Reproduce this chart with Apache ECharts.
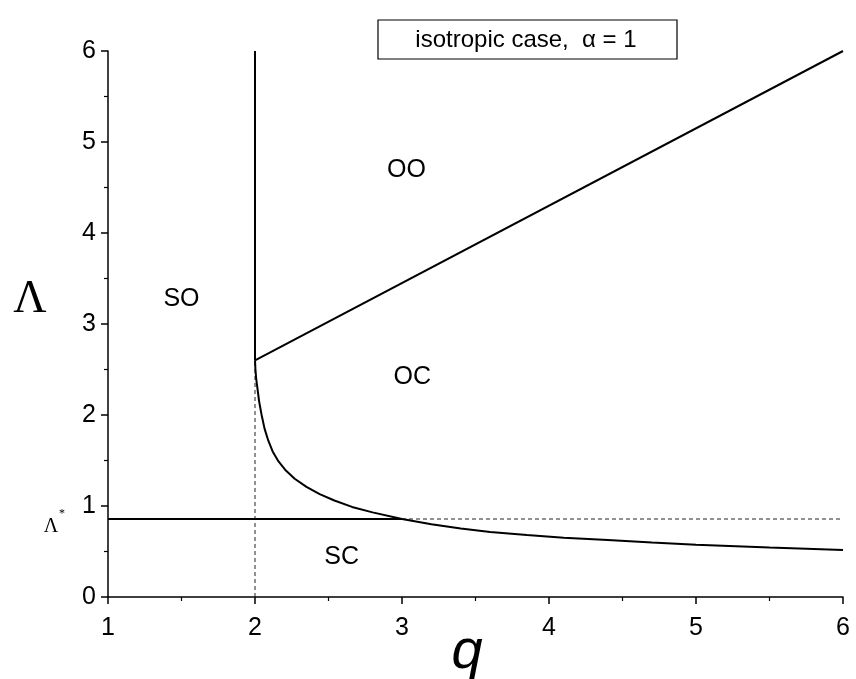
<!DOCTYPE html>
<html><head><meta charset="utf-8">
<script src="https://cdn.jsdelivr.net/npm/echarts@6/dist/echarts.min.js"></script>
<style>html,body{margin:0;padding:0;background:#fff}#c{width:856px;height:679px}</style>
</head><body><div id="c"></div>
<script>
var lambdaStar = 0.857;
var upperLine = [[2.0, 2.6], [6.0, 6.0]];
var verticalSolid = [[2.0, 2.6], [2.0, 6.0]];
var verticalDashed = [[2.0, 0], [2.0, 6.0]];
var starSolid = [[1.0, lambdaStar], [3.0, lambdaStar]];
var starDashed = [[3.0, lambdaStar], [6.0, lambdaStar]];
var curveQ = [2.000, 2.003, 2.008, 2.016, 2.028, 2.045, 2.065, 2.09, 2.12, 2.16, 2.21, 2.27, 2.35, 2.44, 2.54, 2.66, 2.80, 3.0, 3.2, 3.4, 3.6, 3.85, 4.1, 4.4, 4.7, 5.0, 5.5, 6.0];
var curveL = [2.60, 2.50, 2.40, 2.30, 2.15, 2.00, 1.85, 1.72, 1.60, 1.49, 1.39, 1.30, 1.21, 1.13, 1.06, 0.99, 0.93, 0.857, 0.80, 0.752, 0.715, 0.68, 0.652, 0.626, 0.598, 0.574, 0.543, 0.516];
var regionNames = ['SO', 'OO', 'OC', 'SC'];
var regionPos = [[1.50, 3.27], [3.03, 4.69], [3.07, 2.42], [2.59, 0.44]];
var xTicks = [1, 2, 3, 4, 5, 6];
var yTicks = [0, 1, 2, 3, 4, 5, 6];

var curve = curveQ.map(function (q, i) { return [q, curveL[i]]; });
var chart = echarts.init(document.getElementById('c'));
function lineSeries(data, width, type, color) {
  return { type: 'line', data: data, symbol: 'none', silent: true,
    lineStyle: { color: color || '#000', width: width, type: type || 'solid' }, z: 3 };
}
var labelFont = 'Liberation Sans, Arial';
chart.setOption({
  animation: false,
  grid: { left: 108, right: 13, top: 51, bottom: 82 },
  xAxis: { type: 'value', min: 1, max: 6, interval: 1,
    axisLine: { onZero: false, lineStyle: { color: '#000', width: 1.5 } },
    axisTick: { inside: false, length: 7, lineStyle: { color: '#000', width: 1.5 } },
    minorTick: { show: true, splitNumber: 2, length: 4, lineStyle: { color: '#000', width: 1.2 } },
    splitLine: { show: false },
    axisLabel: { color: '#000', fontSize: 25, fontFamily: labelFont, margin: 19,
      formatter: function (v) { return xTicks.indexOf(v) >= 0 ? String(v) : ''; } }
  },
  yAxis: { type: 'value', min: 0, max: 6, interval: 1,
    axisLine: { show: true, onZero: false, lineStyle: { color: '#000', width: 1.5 } },
    axisTick: { show: true, inside: false, length: 7, lineStyle: { color: '#000', width: 1.5 } },
    minorTick: { show: true, splitNumber: 2, length: 4, lineStyle: { color: '#000', width: 1.2 } },
    splitLine: { show: false },
    axisLabel: { color: '#000', fontSize: 25, fontFamily: labelFont, margin: 12,
      formatter: function (v) { return yTicks.indexOf(v) >= 0 ? String(v) : ''; } }
  },
  series: [
    lineSeries(verticalDashed, 1, [4, 3], '#222'),
    lineSeries(starDashed, 1, [4, 3], '#222'),
    lineSeries(verticalSolid, 2),
    lineSeries(upperLine, 2),
    lineSeries(starSolid, 2),
    lineSeries(curve, 2),
    { type: 'scatter', symbolSize: 0, silent: true, itemStyle: { opacity: 1 },
      data: regionPos.map(function (p, i) { return { value: p, name: regionNames[i] }; }),
      label: { show: true, position: 'inside', formatter: '{b}', color: '#000', fontSize: 25,
        textBorderWidth: 0, fontFamily: labelFont } }
  ],
  graphic: [
    { type: 'rect', shape: { x: 378, y: 20, width: 299, height: 39 },
      style: { fill: '#fff', stroke: '#000', lineWidth: 1.2 } },
    { type: 'text', x: 526, y: 40, style: { text: 'isotropic case,  α = 1', fill: '#000',
      font: '24px "Liberation Sans", Arial', textAlign: 'center', textVerticalAlign: 'middle' } },
    { type: 'text', x: 30, y: 300, style: { text: 'Λ', fill: '#000',
      font: '46px "Liberation Serif", "Times New Roman"', textAlign: 'center', textVerticalAlign: 'middle' } },
    { type: 'text', x: 467, y: 652, style: { text: 'q', fill: '#000',
      font: 'italic 56px "Liberation Sans", Arial', textAlign: 'center', textVerticalAlign: 'middle' } },
    { type: 'text', x: 51, y: 527, style: { text: 'Λ', fill: '#000',
      font: '20px "Liberation Serif", "Times New Roman"', textAlign: 'center', textVerticalAlign: 'middle' } },
    { type: 'text', x: 62, y: 514, style: { text: '*', fill: '#000',
      font: '12px "Liberation Serif", "Times New Roman"', textAlign: 'center', textVerticalAlign: 'middle' } }
  ]
});
</script></body></html>
